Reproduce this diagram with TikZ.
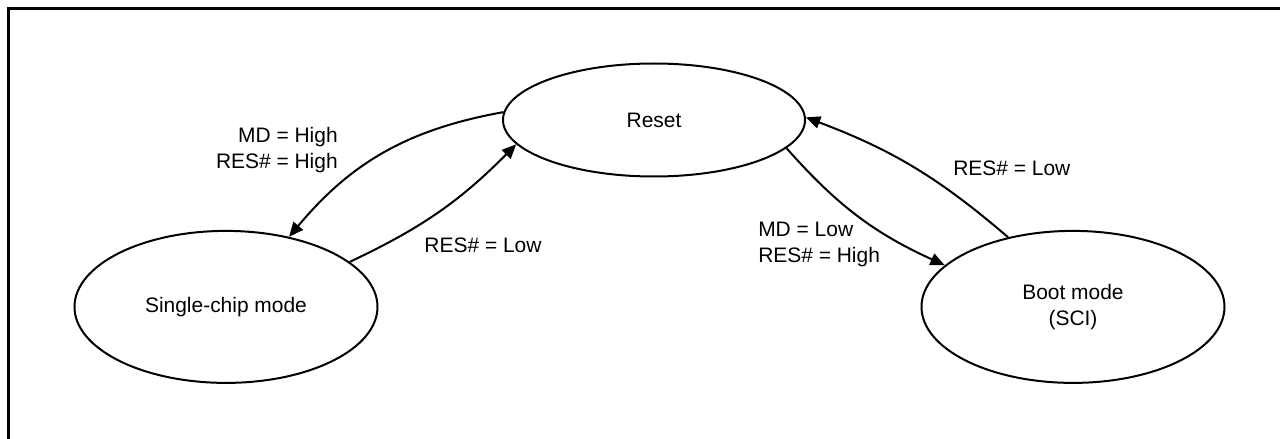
\documentclass[tikz,border=0pt]{standalone}
\usepackage{fontspec}
\setmainfont{Liberation Sans}
\usetikzlibrary{positioning,arrows.meta,shapes.geometric,calc}

\begin{document}
\begin{tikzpicture}[
  font=\fontsize{14.9}{18.5}\selectfont,
  >={Triangle[length=3.6mm,width=3.1mm]},
  mode/.style={ellipse, draw=black, line width=0.5mm, align=center,
               inner sep=0pt, minimum width=75.75mm, minimum height=38mm},
  flow/.style={->, line width=0.5mm, draw=black},
  lbl/.style={inner sep=0pt},
]
\useasboundingbox (0,0) rectangle (320mm,-109.75mm);

% ---- frame (top and left edge only) ----
\draw[line width=0.75mm] (2.125mm,-109.75mm) -- (2.125mm,-2.125mm) -- (320mm,-2.125mm);

% ---- states ----
\node[mode, minimum width=75.5mm, minimum height=28.25mm] (reset) at (163.5mm,-30mm) {Reset};
\node[mode, below=13.1mm of reset, xshift=-107mm] (single) {Single-chip mode};
\node[mode, below=13.1mm of reset, xshift=104.75mm] (boot) {Boot mode\\(SCI)};

% ---- transitions ----
\draw[flow] (reset.177) to[bend right=20] (single.48);
\draw[flow] (single.20) to[bend right=10] (reset.190);
\draw[flow] (reset.348) to[bend right=12] (boot.162);
\draw[flow] (boot.133) to[bend right=10] (reset.1);

% ---- conditions ----
\node[lbl, align=right, anchor=east] (c-high) at ($(reset.center)+(-79mm,-7.5mm)$)
  {MD = High\\RES\# = High};
\node[lbl] (c-low-l) at ($(reset.center)+(-42.75mm,-31.25mm)$) {RES\# = Low};
\node[lbl, align=left, anchor=west] (c-boot) at ($(reset.center)+(26mm,-31mm)$)
  {MD = Low\\RES\# = High};
\node[lbl, anchor=west] (c-low-r) at ($(reset.center)+(74.75mm,-12mm)$) {RES\# = Low};
\end{tikzpicture}
\end{document}
